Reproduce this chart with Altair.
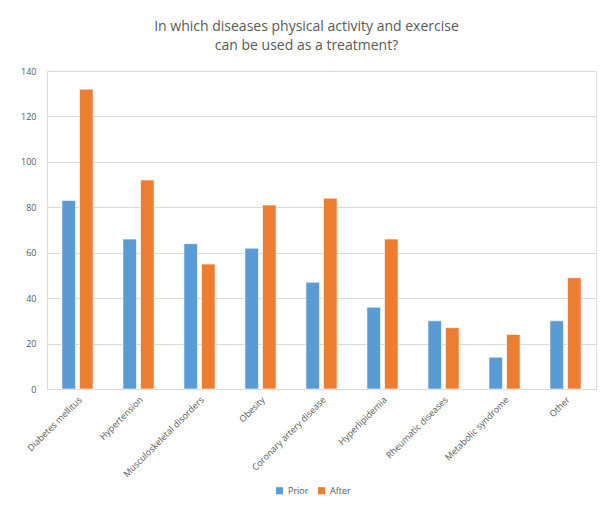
import altair as alt
import pandas as pd

categories = ["Diabetes mellitus", "Hypertension", "Musculoskeletal disorders", "Obesity",
              "Coronary artery disease", "Hyperlipidemia", "Rheumatic diseases",
              "Metabolic syndrome", "Other"]
prior = [83, 66, 64, 62, 47, 36, 30, 14, 30]
after = [132, 92, 55, 81, 84, 66, 27, 24, 49]
series = ["Prior", "After"]
colors = ["#5B9BD5", "#ED7D31"]

rows = []
for c, p, a in zip(categories, prior, after):
    rows.append({"Disease": c, "Group": "Prior", "Value": p})
    rows.append({"Disease": c, "Group": "After", "Value": a})
df = pd.DataFrame(rows)

FONT = "Open Sans"

chart = alt.Chart(df).mark_bar(stroke="white", strokeWidth=0.6).encode(
    x=alt.X("Disease:N", sort=categories, title=None,
            scale=alt.Scale(paddingInner=0.49, paddingOuter=0.245),
            axis=alt.Axis(labelAngle=-45, labelFontSize=9, labelColor="#595959",
                          labelFont=FONT, ticks=False, domainColor="#d9d9d9",
                          labelPadding=6, labelLimit=200)),
    xOffset=alt.XOffset("Group:N", sort=series,
                        scale=alt.Scale(paddingInner=0.23, paddingOuter=0)),
    y=alt.Y("Value:Q", title=None,
            scale=alt.Scale(domain=[0, 140]),
            axis=alt.Axis(values=[0, 20, 40, 60, 80, 100, 120, 140], labelFontSize=9,
                          labelColor="#595959", labelFont=FONT, domain=False, ticks=False,
                          gridColor="#d9d9d9", labelPadding=11)),
    color=alt.Color("Group:N", sort=series,
                    scale=alt.Scale(domain=series, range=colors),
                    legend=alt.Legend(title=None, orient="none", direction="horizontal",
                                      legendX=228, legendY=415, symbolType="square",
                                      symbolSize=50, symbolStrokeWidth=0,
                                      labelFontSize=9, labelColor="#595959",
                                      labelFont=FONT, columnPadding=8)),
).properties(
    width=549, height=318,
    title=alt.Title(["In which diseases physical activity and exercise",
                     "can be used as a treatment?"],
                    fontSize=14, font=FONT, fontWeight="normal", color="#595959",
                    anchor="middle", dx=-15, offset=14, lineHeight=19),
    autosize=alt.AutoSizeParams(type="none"),
    padding={"left": 47, "top": 71, "right": 14, "bottom": 117},
).configure_view(stroke=None).configure(background="white")

chart.save("out.html", embed_options={"renderer": "svg", "actions": False})
